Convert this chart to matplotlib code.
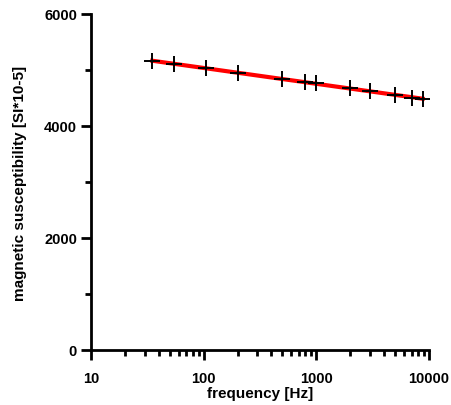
import numpy as np
import matplotlib
matplotlib.use("Agg")
import matplotlib.pyplot as plt
from matplotlib.ticker import LogLocator, FixedLocator, NullFormatter

freq = [35, 55, 105, 200, 500, 800, 1000, 2000, 3000, 5000, 7000, 8800]
chi = [5160, 5105, 5035, 4945, 4840, 4785, 4765, 4680, 4625, 4555, 4500, 4480]

plt.rcParams['font.family'] = ['Liberation Sans', 'DejaVu Sans']
plt.rcParams['font.weight'] = 'bold'

fig = plt.figure(figsize=(4.52, 4.06), dpi=100)
ax = fig.add_axes([91/452, 1 - 351/406, (429-91)/452, (351-15)/406])

# linear fit in log frequency
lx = np.log10(freq)
b, a = np.polyfit(lx, chi, 1)
xf = np.array([freq[0], freq[-1]])
ax.plot(xf, a + b*np.log10(xf), color='red', lw=3, zorder=2)
ax.plot(freq, chi, ls='none', marker='+', ms=12, mew=1.4, color='black', zorder=3)

ax.set_xscale('log')
ax.set_xlim(10, 10000)
ax.set_ylim(0, 6000)
ax.set_xticks([10, 100, 1000, 10000])
ax.set_xticklabels(['10', '100', '1000', '10000'])
ax.xaxis.set_minor_locator(LogLocator(base=10, subs=np.arange(2, 10), numticks=20))
ax.xaxis.set_minor_formatter(NullFormatter())
ax.set_yticks([0, 2000, 4000, 6000])
ax.yaxis.set_minor_locator(FixedLocator([1000, 3000, 5000]))

for s in ['top', 'right']:
    ax.spines[s].set_visible(False)
for s in ['left', 'bottom']:
    ax.spines[s].set_linewidth(2)
ax.tick_params(which='major', direction='out', length=7, width=2, labelsize=10.5, pad=3)
ax.tick_params(axis='x', which='major', pad=8)
ax.tick_params(which='minor', direction='out', length=4, width=2)
for lab in ax.get_xticklabels() + ax.get_yticklabels():
    lab.set_fontweight('bold')

ax.set_xlabel('frequency [Hz]', fontsize=11, fontweight='bold', labelpad=1)
ax.set_ylabel('magnetic susceptibility [SI*10-5]', fontsize=11, fontweight='bold', labelpad=12)

fig.savefig('out.png', dpi=100)
